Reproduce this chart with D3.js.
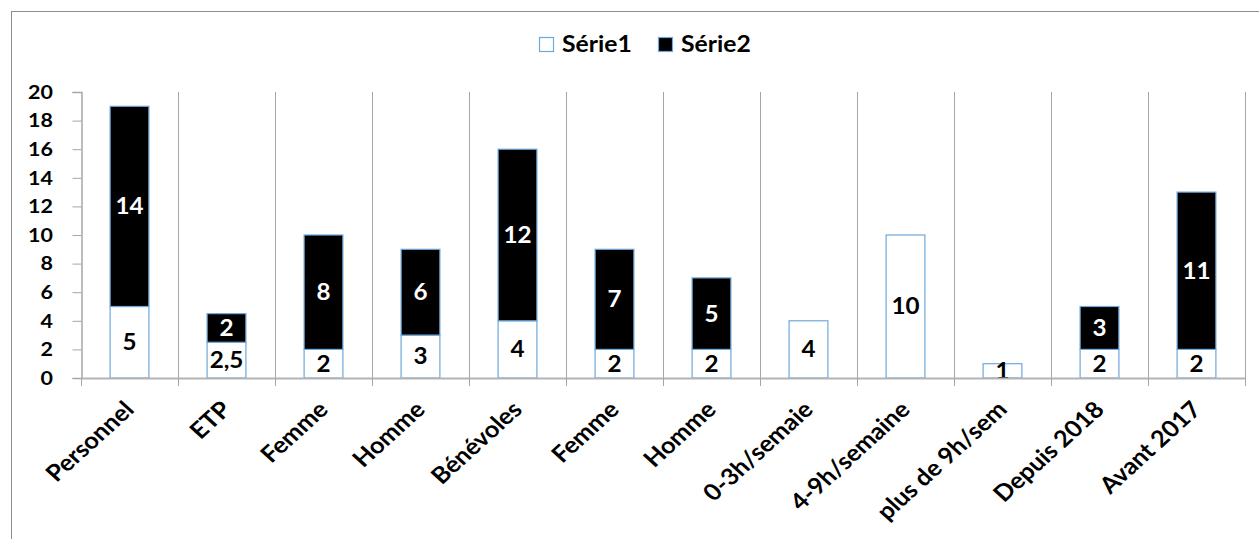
<!DOCTYPE html>
<html><head><meta charset="utf-8">
<script src="https://cdn.jsdelivr.net/npm/d3@7"></script>
<style>
html,body{margin:0;padding:0;background:#fff;}
svg{display:block;font-family:Lato,"Open Sans",sans-serif;font-weight:bold;}
</style></head>
<body>
<svg id="chart" width="1259" height="539"></svg>
<script>
const categories = ["Personnel","ETP","Femme","Homme","Bénévoles","Femme","Homme","0-3h/semaie","4-9h/semaine","plus de 9h/sem","Depuis 2018","Avant 2017"];
const serie1 = [5, 2.5, 2, 3, 4, 2, 2, 4, 10, 1, 2, 2];
const serie2 = [14, 2, 8, 6, 12, 7, 5, null, null, null, 3, 11];
const seriesNames = ["Série1","Série2"];
const yTicks = [0,2,4,6,8,10,12,14,16,18,20];

const svg = d3.select("#chart");
const m = {left:81, right:1245, top:92, bottom:378};
const SX = 1.1; // horizontal text stretch seen in the reference
const fmt = d3.formatLocale({decimal:",", thousands:" ", grouping:[3], currency:["","€"]}).format("~g");

// outer frame
svg.append("rect").attr("x",11.5).attr("y",11.5).attr("width",1300).attr("height",600)
  .attr("fill","#fff").attr("stroke","#8c8c8c").attr("stroke-width",1);

const x = d3.scaleBand().domain(d3.range(categories.length)).range([m.left, m.right]).padding(0);
const y = d3.scaleLinear().domain([0,20]).range([m.bottom, m.top]);
const bw = x.bandwidth()*0.4;

// vertical gridlines at category boundaries
const bounds = d3.range(categories.length+1).map(i => m.left + i*x.bandwidth());
svg.append("g").selectAll("line").data(bounds.slice(1)).join("line")
  .attr("x1",d=>Math.round(d)+0.5).attr("x2",d=>Math.round(d)+0.5)
  .attr("y1",m.top).attr("y2",m.bottom+8)
  .attr("stroke","#a6a6a6").attr("stroke-width",1);

// y axis
const yAxis = d3.axisLeft(y).tickValues(yTicks).tickSize(9).tickPadding(17).tickFormat(d3.format("d"));
const gy = svg.append("g").attr("transform",`translate(${m.left+0.5},0)`).call(yAxis);
gy.select(".domain").attr("stroke","#a6a6a6").attr("stroke-width",1.5);
gy.selectAll(".tick line").attr("stroke","#a6a6a6");
gy.selectAll(".tick text").attr("font-size",19.5).attr("font-family","Lato").attr("font-weight","bold")
  .attr("fill","#000").attr("transform",`scale(${SX},1)`);

// bars
const stack = categories.map((c,i)=>({i, a:serie1[i], b:serie2[i]}));
const g = svg.append("g");
stack.forEach(d=>{
  const cx = x(d.i) + x.bandwidth()/2;
  g.append("rect").attr("x",cx-bw/2).attr("width",bw)
    .attr("y",y(d.a)).attr("height",y(0)-y(d.a))
    .attr("fill","#fff").attr("stroke","#6fa8dc").attr("stroke-width",1.2);
  if (d.b != null) {
    g.append("rect").attr("x",cx-bw/2).attr("width",bw)
      .attr("y",y(d.a+d.b)).attr("height",y(d.a)-y(d.a+d.b))
      .attr("fill","#000").attr("stroke","#6fa8dc").attr("stroke-width",1.2);
  }
});

// x axis line
svg.append("line").attr("x1",m.left).attr("x2",m.right+1).attr("y1",m.bottom+0.5).attr("y2",m.bottom+0.5)
  .attr("stroke","#b4b4b4").attr("stroke-width",2);
svg.append("g").selectAll("line").data(bounds).join("line")
  .attr("x1",d=>Math.round(d)+0.5).attr("x2",d=>Math.round(d)+0.5)
  .attr("y1",m.bottom).attr("y2",m.bottom+8)
  .attr("stroke","#a6a6a6");

// data labels
const DFS = 22;
stack.forEach(d=>{
  const cx = x(d.i) + x.bandwidth()/2;
  g.append("text").attr("transform",`translate(${cx},${(y(0)+y(d.a))/2}) scale(${SX},1)`).attr("dy","0.36em")
    .attr("text-anchor","middle").attr("font-size",DFS).attr("fill","#000").text(fmt(d.a));
  if (d.b != null) {
    g.append("text").attr("transform",`translate(${cx},${(y(d.a)+y(d.a+d.b))/2}) scale(${SX},1)`).attr("dy","0.36em")
      .attr("text-anchor","middle").attr("font-size",DFS).attr("fill","#fff").text(fmt(d.b));
  }
});

// category labels
svg.append("g").selectAll("text").data(categories).join("text")
  .attr("transform",(d,i)=>`translate(${x(i)+x.bandwidth()/2+6},${411}) scale(${SX},1) rotate(-45)`)
  .attr("text-anchor","end").attr("font-size",23).attr("fill","#000").text(d=>d);

// legend
const lg = svg.append("g");
const legendItems = [{name:seriesNames[0], fill:"#fff", x:539},{name:seriesNames[1], fill:"#000", x:658}];
legendItems.forEach(l=>{
  lg.append("rect").attr("x",l.x+0.5).attr("y",37.5).attr("width",14).attr("height",14)
    .attr("fill",l.fill).attr("stroke","#6fa8dc").attr("stroke-width",1.2);
  lg.append("text").attr("transform",`translate(${l.x+23},52) scale(${SX},1)`)
    .attr("font-size",22.5).attr("fill","#000").text(l.name);
});
</script>
</body></html>
